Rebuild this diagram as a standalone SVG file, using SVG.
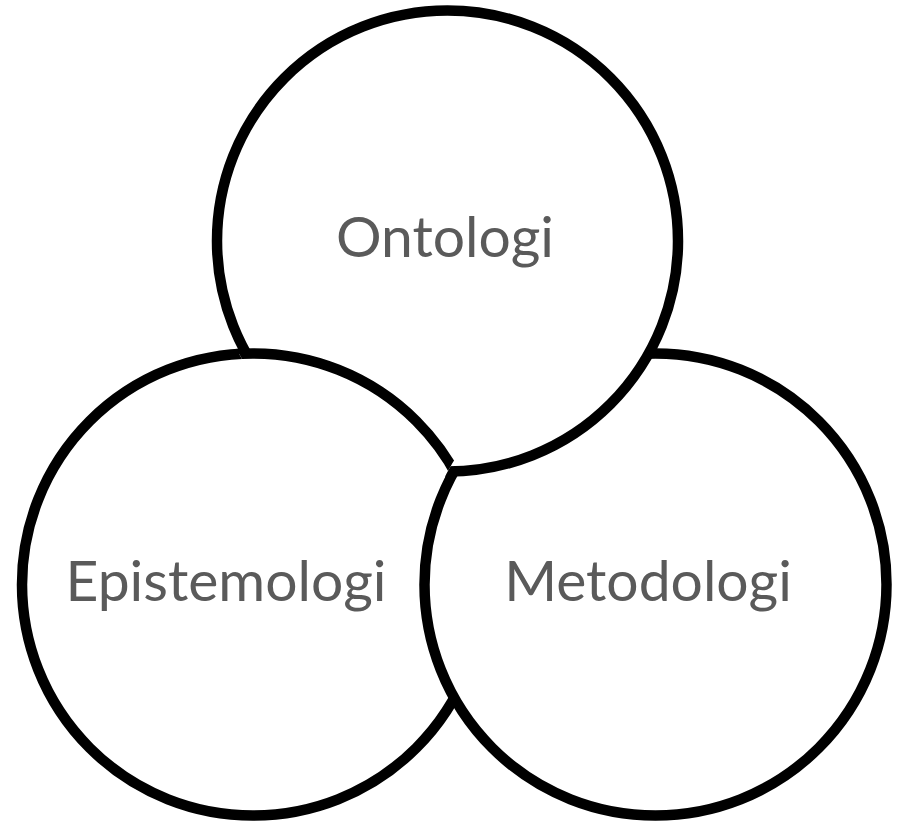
<svg xmlns="http://www.w3.org/2000/svg" xmlns:xlink="http://www.w3.org/1999/xlink" width="899" height="824" viewBox="0 0 899 824">
  <style>
    .ring { fill: #ffffff; stroke: #000000; stroke-width: 10.5; }
    .label { font-family: Lato, "Liberation Sans", sans-serif; font-size: 57px; fill: #5a5a5a; text-anchor: middle; }
  </style>
  <defs>
    <circle id="c-epi" cx="253" cy="584.5" r="231"/>
    <clipPath id="clip-onto">
      <circle cx="447.5" cy="241" r="237"/>
    </clipPath>
    <clipPath id="clip-outside-meto">
      <path clip-rule="evenodd" d="M0 0H899V824H0Z M655.5 584.5m-236.5 0a236.5 236.5 0 1 0 473 0a236.5 236.5 0 1 0 -473 0Z"/>
    </clipPath>
  </defs>
  <rect width="899" height="824" fill="#ffffff"/>
  <g id="node-epistemologi">
    <use xlink:href="#c-epi" href="#c-epi" class="ring"/>
    <text class="label" x="226" y="601">Epistemologi</text>
  </g>
  <g id="node-metodologi">
    <circle class="ring" cx="655.5" cy="584.5" r="231"/>
    <text class="label" x="648" y="601">Metodologi</text>
  </g>
  <g id="node-ontologi">
    <circle class="ring" cx="447.5" cy="241" r="230.5"/>
    <text class="label" x="445" y="257">Ontologi</text>
  </g>
  <g id="overlap-epistemologi-over-ontologi" clip-path="url(#clip-outside-meto)">
    <use xlink:href="#c-epi" href="#c-epi" class="ring" clip-path="url(#clip-onto)"/>
  </g>
  <g id="connectors"></g>
</svg>
